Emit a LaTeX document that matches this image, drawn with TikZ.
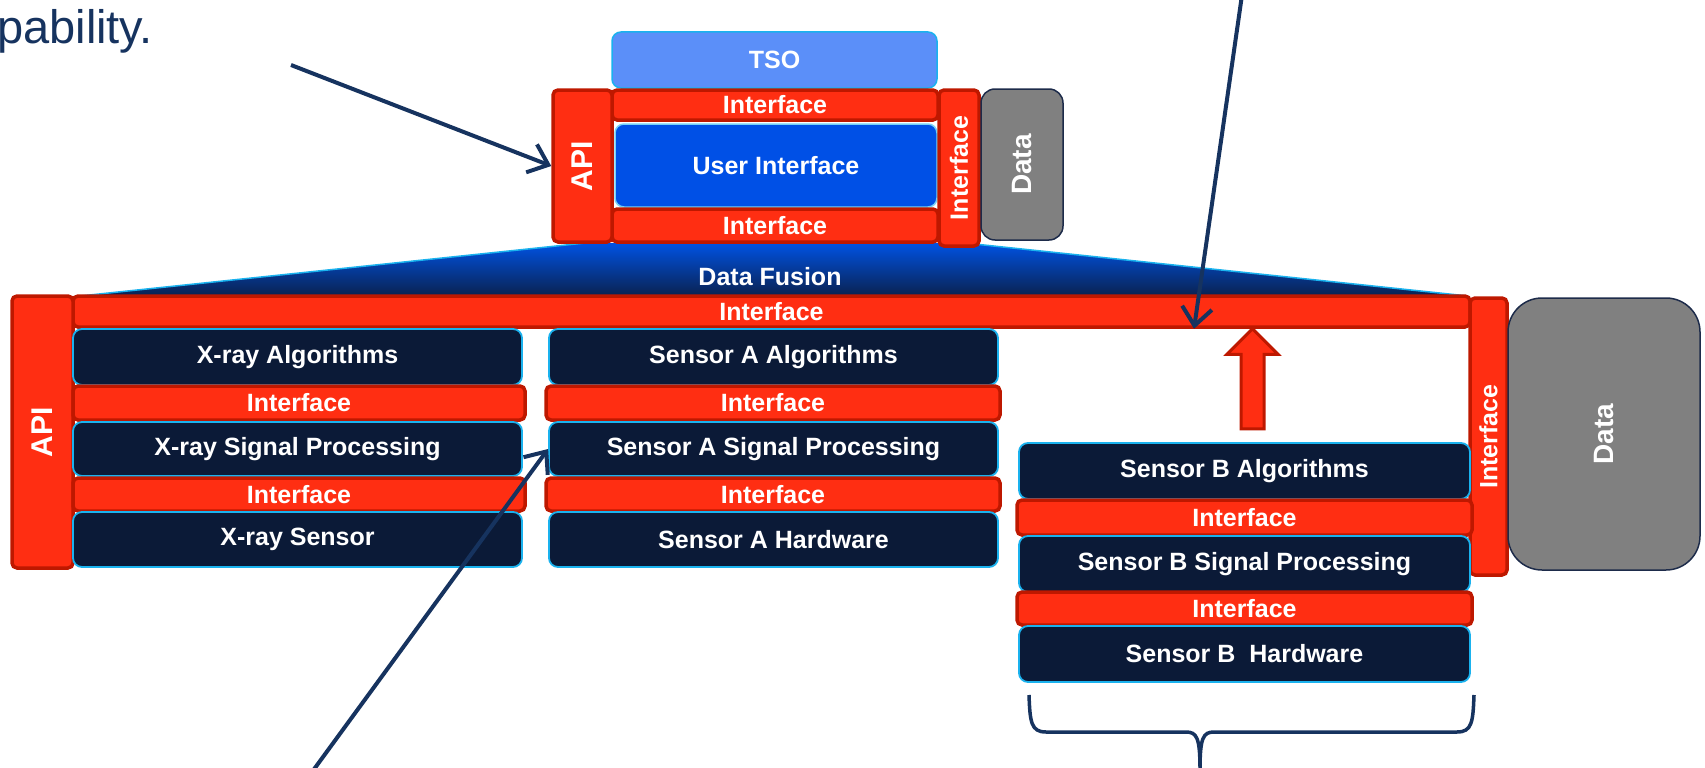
\documentclass[tikz,border=0pt]{standalone}
\usepackage{fontspec}
\setmainfont{Liberation Sans}
\usepackage{tikz}
\usetikzlibrary{shapes,arrows.meta,positioning}

\definecolor{ifred}{HTML}{FF2E12}
\definecolor{ifdark}{HTML}{BE1800}
\definecolor{layernavy}{HTML}{0B1A37}
\definecolor{edgecyan}{HTML}{1AB2EE}
\definecolor{tsoblue}{HTML}{5B8FF9}
\definecolor{uiblue}{HTML}{0050E6}
\definecolor{datagray}{HTML}{808080}
\definecolor{datanavy}{HTML}{1D2B4A}
\definecolor{arrownavy}{HTML}{16335F}
\definecolor{fusionblue}{HTML}{0052E3}
\definecolor{fusionnavy}{HTML}{0A2250}

\begin{document}
\begin{tikzpicture}[x=1pt, y=-1pt,
        lbl/.style={font=\bfseries\fontsize{25}{30}\selectfont, text=white},
        layer/.style={lbl, rectangle, rounded corners=9pt, draw=edgecyan, line width=1.8pt, fill=layernavy, inner sep=0pt, minimum width=449pt, minimum height=55pt},
        iface/.style={lbl, rectangle, rounded corners=5pt, draw=ifdark, line width=3.5pt, fill=ifred, inner sep=0pt},
        store/.style={rectangle, draw=datanavy, line width=1.5pt, fill=datagray, inner sep=0pt, text=white, font=\bfseries\fontsize{28}{32}\selectfont},
        pointer/.style={->, line width=4pt, draw=arrownavy},
        >={Straight Barb[length=18pt, width=30pt]}
    ]
        \useasboundingbox (0,0) rectangle (1705,768);

        % Caption fragment
        \node[anchor=base west, inner sep=0pt, text=arrownavy, font=\fontsize{47}{54}\selectfont] (caption) at (-3,44) {pability.};

        % Data fusion wedge
        \fill[top color=fusionblue, bottom color=fusionnavy] (80,296) -- (585,243) -- (965,243) -- (1468,296) -- cycle;
        \draw[edgecyan, line width=1.5pt] (80,296) -- (585,243);
        \draw[edgecyan, line width=1.5pt] (965,243) -- (1468,296);
        \node[lbl] (fusion) at (770,277) {Data Fusion};

        % Top stack
        \node[lbl, rectangle, rounded corners=9pt, draw=edgecyan, line width=1.5pt, fill=tsoblue, minimum width=325pt, minimum height=56pt] (tso) at (774.5,60) {TSO};
        \node[iface, minimum width=326pt, minimum height=30pt] (ifup) at (775,105) {Interface};
        \node[lbl, rectangle, rounded corners=9pt, draw=edgecyan!60, line width=1.5pt, fill=uiblue, minimum width=322pt, minimum height=83pt] (ui) at (776,165.5) {User Interface};
        \node[iface, minimum width=326pt, minimum height=33pt] (ifdown) at (775,225.5) {Interface};
        \node[iface, minimum width=59pt, minimum height=152pt, font=\bfseries\fontsize{30}{34}\selectfont] (apitop) at (582.5,166) {\rotatebox{90}{API}};
        \node[iface, minimum width=40pt, minimum height=156pt] (ifside) at (959,168) {\rotatebox{90}{Interface}};
        \node[store, rounded corners=14pt, minimum width=82pt, minimum height=151pt] (datatop) at (1022,164.5) {\rotatebox{90}{Data}};

        % Main interface bar
        \node[iface, minimum width=1397pt, minimum height=31pt] (ifmain) at (771.5,311.5) {Interface};
        \node[iface, minimum width=61pt, minimum height=272pt, font=\bfseries\fontsize{30}{34}\selectfont] (apileft) at (42.5,432) {\rotatebox{90}{API}};
        \node[iface, minimum width=37pt, minimum height=277pt] (ifright) at (1488.5,436.5) {\rotatebox{90}{Interface}};
        \node[store, rounded corners=34pt, minimum width=192pt, minimum height=272pt] (databig) at (1604,434) {\rotatebox{90}{Data}};

        % X-ray
        \node[layer, minimum height=56pt] (xalg) at (297.5,357) {X-ray Algorithms};
        \node[iface, minimum width=452pt, minimum height=34pt] (xif1) at (299,403) {Interface};
        \node[layer, minimum height=54pt] (xsp) at (297.5,449) {X-ray Signal Processing};
        \node[iface, minimum width=452pt, minimum height=33pt] (xif2) at (299,494.5) {Interface};
        \node[layer] (xsens) at (297.5,539.5) {X-ray Sensor};

        % Sensor A
        \node[layer, minimum height=56pt] (aalg) at (773.5,357) {Sensor A Algorithms};
        \node[iface, minimum width=454pt, minimum height=34pt] (aif1) at (773,403) {Interface};
        \node[layer, minimum height=54pt] (asp) at (773.5,449) {Sensor A Signal Processing};
        \node[iface, minimum width=454pt, minimum height=33pt] (aif2) at (773,494.5) {Interface};
        \node[layer] (ahw) at (773.5,539.5) {Sensor A Hardware};

        % Sensor B
        \node[layer, minimum width=451pt, minimum height=56pt] (balg) at (1244.5,471) {Sensor B Algorithms};
        \node[iface, minimum width=455pt, minimum height=35pt] (bif1) at (1244.5,517.5) {Interface};
        \node[layer, minimum width=451pt, minimum height=56pt] (bsp) at (1244.5,564) {Sensor B Signal Processing};
        \node[iface, minimum width=455pt, minimum height=33pt] (bif2) at (1244.5,608.5) {Interface};
        \node[layer, minimum width=451pt, minimum height=56pt] (bhw) at (1244.5,654) {Sensor B\ \ Hardware};

        % Sensor B plugs in
        \node[single arrow, shape border rotate=90, draw=ifdark, fill=ifred, line width=3pt, inner sep=10pt, minimum height=100pt, single arrow head extend=14pt] (plugin) at (1252.5,384.5) {};

        % Brace under sensor B
        \draw[arrownavy, line width=3.5pt] (1029,695) .. controls (1030,722) and (1031,732) .. (1046,732) -- (1186,732) .. controls (1197,732) and (1200,738) .. (1200,770) .. controls (1200,738) and (1203,732) .. (1214,732) -- (1457,732) .. controls (1472,732) and (1473,722) .. (1474,695);

        % Pointers
        \coordinate (fromcap) at (291,65);
        \coordinate (fromtop) at (1242,-5);
        \coordinate (frombottom) at (312,772);
        \draw[pointer] (fromcap) -- (apitop.west);
        \draw[pointer] (fromtop) -- (ifmain.south -| 1194,0);
        \draw[pointer] (frombottom) -- (asp.west);
    \end{tikzpicture}
\end{document}
